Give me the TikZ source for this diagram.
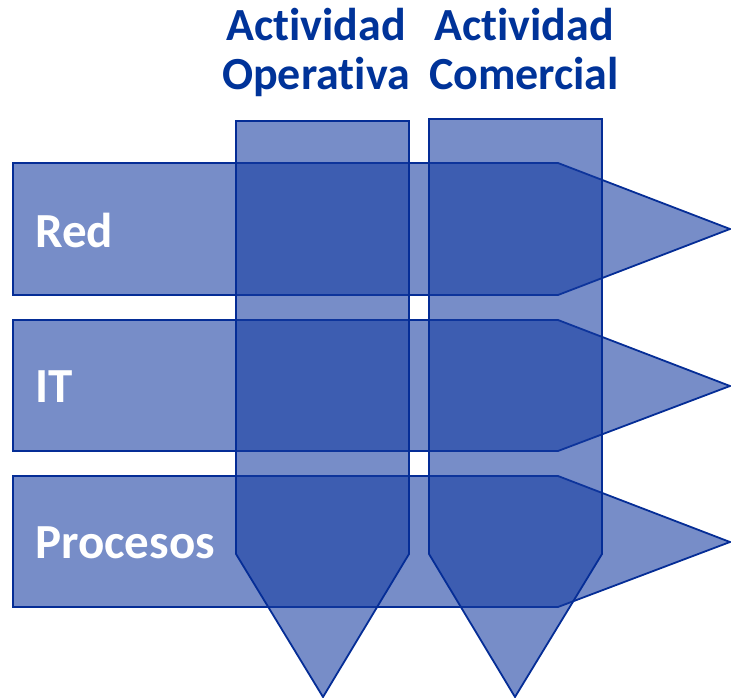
\documentclass[tikz,border=0pt]{standalone}
\usepackage{fontspec}
\setmainfont{Carlito}[RawFeature=-liga]
\definecolor{bandfill}{RGB}{20,58,160}
\definecolor{bandline}{RGB}{5,45,150}
\definecolor{titleblue}{RGB}{0,51,153}
\begin{document}
\begin{tikzpicture}[x=1pt,y=-1pt,
  band/.style={fill=bandfill,fill opacity=0.58,draw=bandline,line width=1.8pt,line join=miter},
  bandlabel/.style={anchor=west,text=white,font=\fontsize{49}{50}\selectfont\bfseries,inner sep=0pt},
  coltitle/.style={anchor=north,align=center,text=titleblue,font=\fontsize{46}{49}\selectfont\bfseries,inner sep=0pt}]
\useasboundingbox (0,0) rectangle (731,698);
% horizontal bands
\foreach \t/\m/\b in {163/229/295, 320/386/451, 476/542/607}{
  \draw[band] (13,\t) -- (558,\t) -- (730,\m) -- (558,\b) -- (13,\b) -- cycle;
}
% vertical bands
\draw[band] (236,121) -- (409,121) -- (409,554) -- (323,697) -- (236,554) -- cycle;
\draw[band] (429,119) -- (602,119) -- (602,554) -- (515,697) -- (429,554) -- cycle;
% labels
\node[bandlabel] (red) at (35,230) {Red};
\node[bandlabel] (it) at (35,387) {IT};
\node[bandlabel] (proc) at (35,543) {Procesos};
\node[coltitle] (oper) at (316,8) {Actividad\\Operativa};
\node[coltitle] (comer) at (524,8) {Actividad\\Comercial};
\end{tikzpicture}
\end{document}
